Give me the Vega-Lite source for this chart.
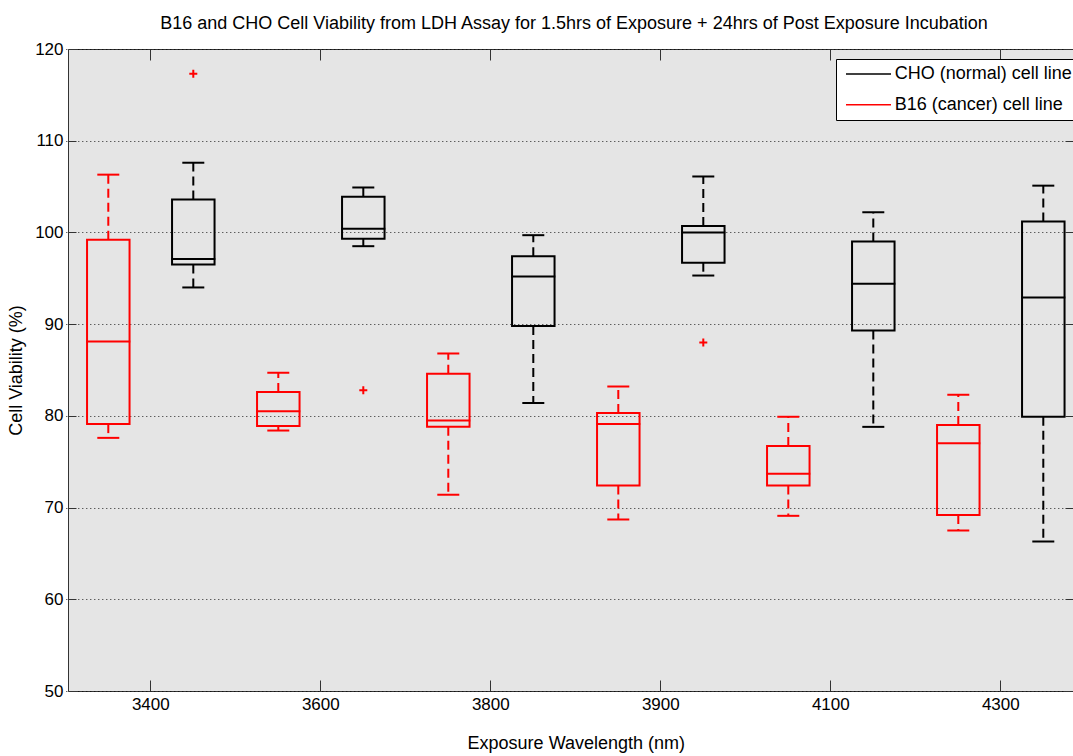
{
  "$schema": "https://vega.github.io/schema/vega-lite/v6.json",
  "autosize": "none",
  "width": 1005,
  "height": 642,
  "padding": {"left": 68, "top": 49, "right": 0, "bottom": 65},
  "background": "white",
  "title": {
    "text": "B16 and CHO Cell Viability from LDH Assay for 1.5hrs of Exposure + 24hrs of Post Exposure Incubation",
    "font": "Liberation Sans",
    "fontSize": 18,
    "fontWeight": "normal",
    "color": "black",
    "anchor": "middle",
    "frame": "group",
    "baseline": "alphabetic",
    "offset": -7,
    "dx": 3.5
  },
  "config": {
    "font": "Liberation Sans",
    "view": {"fill": "#e5e5e5", "stroke": "#333333", "strokeWidth": 1}
  },
  "datasets": {
    "boxes": [
      {"wavelength": "3400", "line": "B16 (cancer) cell line", "lower": 77.6, "q1": 79.1, "median": 88.1, "q3": 99.2, "upper": 106.3},
      {"wavelength": "3400", "line": "CHO (normal) cell line", "lower": 94.0, "q1": 96.5, "median": 97.1, "q3": 103.6, "upper": 107.6},
      {"wavelength": "3600", "line": "B16 (cancer) cell line", "lower": 78.4, "q1": 78.9, "median": 80.5, "q3": 82.6, "upper": 84.7},
      {"wavelength": "3600", "line": "CHO (normal) cell line", "lower": 98.5, "q1": 99.3, "median": 100.4, "q3": 103.9, "upper": 104.9},
      {"wavelength": "3800", "line": "B16 (cancer) cell line", "lower": 71.4, "q1": 78.8, "median": 79.5, "q3": 84.6, "upper": 86.8},
      {"wavelength": "3800", "line": "CHO (normal) cell line", "lower": 81.4, "q1": 89.8, "median": 95.2, "q3": 97.4, "upper": 99.7},
      {"wavelength": "3900", "line": "B16 (cancer) cell line", "lower": 68.7, "q1": 72.4, "median": 79.1, "q3": 80.3, "upper": 83.2},
      {"wavelength": "3900", "line": "CHO (normal) cell line", "lower": 95.3, "q1": 96.7, "median": 100.0, "q3": 100.7, "upper": 106.1},
      {"wavelength": "4100", "line": "B16 (cancer) cell line", "lower": 69.1, "q1": 72.4, "median": 73.7, "q3": 76.7, "upper": 79.9},
      {"wavelength": "4100", "line": "CHO (normal) cell line", "lower": 78.8, "q1": 89.3, "median": 94.4, "q3": 99.0, "upper": 102.2},
      {"wavelength": "4300", "line": "B16 (cancer) cell line", "lower": 67.5, "q1": 69.2, "median": 77.0, "q3": 79.0, "upper": 82.3},
      {"wavelength": "4300", "line": "CHO (normal) cell line", "lower": 66.3, "q1": 79.9, "median": 92.9, "q3": 101.2, "upper": 105.1}
    ],
    "outliers": [
      {"wavelength": "3400", "line": "CHO (normal) cell line", "value": 117.3},
      {"wavelength": "3600", "line": "CHO (normal) cell line", "value": 82.8},
      {"wavelength": "3900", "line": "CHO (normal) cell line", "value": 88.0}
    ]
  },
  "resolve": {"axis": {"x": "independent", "y": "independent"}},
  "layer": [
    {
      "data": {"name": "boxes"},
      "mark": {"type": "bar", "filled": false, "strokeWidth": 2, "opacity": 1},
      "encoding": {
        "x": {
          "field": "wavelength", "type": "nominal",
          "scale": {"domain": ["3400", "3600", "3800", "3900", "4100", "4300"], "range": [-2.2, 1017.8], "paddingInner": 0, "paddingOuter": 0},
          "axis": {
            "orient": "bottom", "domain": false, "grid": false,
            "tickSize": -11, "tickColor": "#333333", "tickWidth": 1,
            "labelAngle": 0, "labelFontSize": 17, "labelPadding": 16, "labelColor": "black",
            "title": "Exposure Wavelength (nm)", "titleFontSize": 18, "titleFontWeight": "normal",
            "titleColor": "black", "titlePadding": 22
          }
        },
        "xOffset": {
          "field": "line", "type": "nominal",
          "scale": {"domain": ["B16 (cancer) cell line", "CHO (normal) cell line"], "paddingInner": 0.5, "paddingOuter": 0.25}
        },
        "y": {
          "field": "q1", "type": "quantitative",
          "scale": {"domain": [50, 120], "nice": false, "zero": false},
          "axis": {
            "orient": "left", "domain": false,
            "values": [50, 60, 70, 80, 90, 100, 110, 120],
            "tickSize": -8, "tickColor": "#333333",
            "labelFontSize": 17, "labelPadding": 13, "labelColor": "black",
            "labelFlush": false, "labelOverlap": false,
            "grid": true, "gridColor": "black", "gridDash": [1, 3], "gridWidth": 1, "gridOpacity": 0.85,
            "title": "Cell Viability (%)", "titleFontSize": 18, "titleFontWeight": "normal",
            "titleColor": "black", "titlePadding": 9
          }
        },
        "y2": {"field": "q3"},
        "color": {
          "field": "line", "type": "nominal",
          "scale": {"domain": ["CHO (normal) cell line", "B16 (cancer) cell line"], "range": ["black", "#ff0000"]},
          "legend": {
            "orient": "none", "legendX": 768, "legendY": 10,
            "title": null,
            "fillColor": "white", "strokeColor": "black", "padding": 6, "cornerRadius": 0,
            "symbolType": "M-0.714,0L5.714,0", "symbolSize": 196, "symbolStrokeWidth": 1.5,
            "symbolFillColor": "transparent",
            "labelFont": "Liberation Sans", "labelFontSize": 18, "labelColor": "black",
            "labelLimit": 400,
            "labelOffset": 34.7, "rowPadding": 12.7
          }
        }
      }
    },
    {
      "data": {"name": "boxes"},
      "mark": {"type": "tick", "thickness": 2, "size": 44, "opacity": 1},
      "encoding": {
        "x": {
          "field": "wavelength", "type": "nominal",
          "axis": {"orient": "top", "labels": false, "domain": false, "grid": false, "tickSize": -11, "tickColor": "#333333", "title": null}
        },
        "xOffset": {"field": "line", "type": "nominal"},
        "y": {
          "field": "median", "type": "quantitative",
          "axis": {"orient": "right", "labels": false, "domain": false, "grid": false, "tickSize": -8, "tickColor": "#333333", "values": [50, 60, 70, 80, 90, 100, 110, 120], "title": null}
        },
        "color": {"field": "line", "type": "nominal", "legend": null}
      }
    },
    {
      "data": {"name": "boxes"},
      "mark": {"type": "rule", "strokeWidth": 2, "strokeDash": [9, 5], "opacity": 1},
      "encoding": {
        "x": {"field": "wavelength", "type": "nominal", "axis": null},
        "xOffset": {"field": "line", "type": "nominal"},
        "y": {"field": "q3", "type": "quantitative", "axis": null},
        "y2": {"field": "upper"},
        "color": {"field": "line", "type": "nominal", "legend": null}
      }
    },
    {
      "data": {"name": "boxes"},
      "mark": {"type": "rule", "strokeWidth": 2, "strokeDash": [9, 5], "opacity": 1},
      "encoding": {
        "x": {"field": "wavelength", "type": "nominal", "axis": null},
        "xOffset": {"field": "line", "type": "nominal"},
        "y": {"field": "q1", "type": "quantitative", "axis": null},
        "y2": {"field": "lower"},
        "color": {"field": "line", "type": "nominal", "legend": null}
      }
    },
    {
      "data": {"name": "boxes"},
      "mark": {"type": "tick", "thickness": 2, "size": 22, "opacity": 1},
      "encoding": {
        "x": {"field": "wavelength", "type": "nominal", "axis": null},
        "xOffset": {"field": "line", "type": "nominal"},
        "y": {"field": "upper", "type": "quantitative", "axis": null},
        "color": {"field": "line", "type": "nominal", "legend": null}
      }
    },
    {
      "data": {"name": "boxes"},
      "mark": {"type": "tick", "thickness": 2, "size": 22, "opacity": 1},
      "encoding": {
        "x": {"field": "wavelength", "type": "nominal", "axis": null},
        "xOffset": {"field": "line", "type": "nominal"},
        "y": {"field": "lower", "type": "quantitative", "axis": null},
        "color": {"field": "line", "type": "nominal", "legend": null}
      }
    },
    {
      "data": {"name": "outliers"},
      "mark": {"type": "point", "shape": "M-1,0L1,0M0,-1L0,1", "filled": false, "size": 64, "strokeWidth": 2, "color": "#ff0000", "opacity": 1},
      "encoding": {
        "x": {"field": "wavelength", "type": "nominal", "axis": null},
        "xOffset": {"field": "line", "type": "nominal"},
        "y": {"field": "value", "type": "quantitative", "axis": null}
      }
    }
  ]
}
